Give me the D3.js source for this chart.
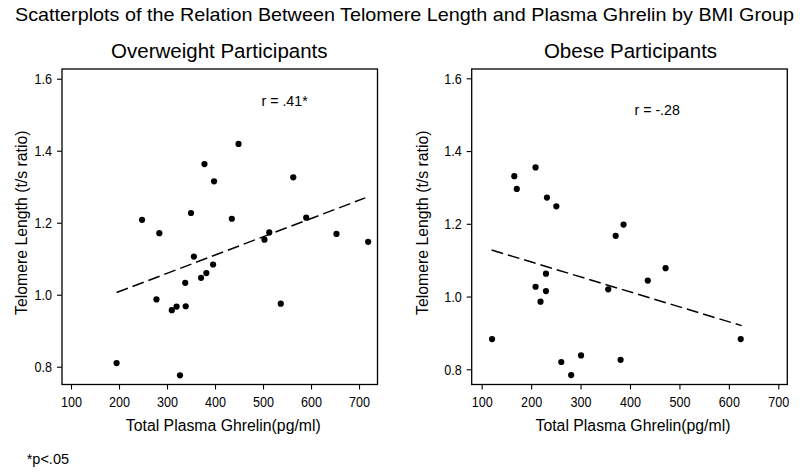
<!DOCTYPE html>
<html>
<head>
<meta charset="utf-8">
<script src="https://cdn.jsdelivr.net/npm/d3@7"></script>
<style>
  html, body { margin: 0; padding: 0; background: #fff; }
  svg { display: block; }
  text { font-family: "Liberation Sans", Arial, Helvetica, sans-serif; fill: #000; }
</style>
</head>
<body>
<svg id="chart" width="800" height="472"></svg>
<script>
// ---------------- data ----------------
const mainTitle = "Scatterplots of the Relation Between Telomere Length and Plasma Ghrelin by BMI Group";
const panelTitles = ["Overweight Participants", "Obese Participants"];
const xLabel = "Total Plasma Ghrelin(pg/ml)";
const yLabel = "Telomere Length (t/s ratio)";
const footnote = "*p<.05";
const rLabels = ["r = .41*", "r = -.28"];

const xTicks = [100, 200, 300, 400, 500, 600, 700];
const yTicks = [0.8, 1.0, 1.2, 1.4, 1.6];

// Overweight participants
const overweightGhrelin = [195, 248, 284, 278, 310, 320, 339, 327, 338, 350, 356, 371, 382, 378, 396, 398, 435, 449, 503, 513, 537, 563, 590, 653, 719];
const overweightTelomere = [0.810, 1.208, 1.171, 0.987, 0.957, 0.967, 0.968, 0.776, 1.033, 1.227, 1.106, 1.047, 1.060, 1.363, 1.084, 1.315, 1.211, 1.419, 1.153, 1.173, 0.975, 1.326, 1.214, 1.169, 1.147];
const overweightFitX = [195, 713];
const overweightFitY = [1.006, 1.269];

// Obese participants
const obeseGhrelin = [121, 166, 171, 209, 232, 251, 230, 209, 230, 219, 261, 281, 301, 356, 371, 387, 381, 436, 472, 624];
const obeseTelomere = [0.883, 1.331, 1.296, 1.355, 1.272, 1.248, 1.063, 1.027, 1.015, 0.986, 0.820, 0.784, 0.838, 1.020, 1.167, 1.198, 0.826, 1.044, 1.078, 0.883];
const obeseFitX = [120, 626];
const obeseFitY = [1.128, 0.920];

// r label anchor positions (data units)
const rLabelX = [545, 455];
const rLabelY = [1.524, 1.499];

// ---------------- layout ----------------
const panels = [
  { left: 62, right: 377.5, top: 69, bottom: 384.5, xDom: [81.25, 738.5], yDom: [0.7506, 1.627],
    title: panelTitles[0], titleX: 219.3, xLabX: 223.3, yLabX: 26.5,
    gx: overweightGhrelin, gy: overweightTelomere, fx: overweightFitX, fy: overweightFitY, r: rLabels[0], rx: rLabelX[0], ry: rLabelY[0] },
  { left: 471.7, right: 787.3, top: 69, bottom: 384.5, xDom: [79.8, 718.2], yDom: [0.7582, 1.6256],
    title: panelTitles[1], titleX: 630.5, xLabX: 633, yLabX: 428,
    gx: obeseGhrelin, gy: obeseTelomere, fx: obeseFitX, fy: obeseFitY, r: rLabels[1], rx: rLabelX[1], ry: rLabelY[1] }
];

const svg = d3.select("#chart");
svg.append("rect").attr("width", 800).attr("height", 472).attr("fill", "#fff");

// main title
svg.append("text")
  .attr("x", 15).attr("y", 20.7)
  .attr("font-size", 18.6)
  .attr("textLength", 779).attr("lengthAdjust", "spacingAndGlyphs")
  .text(mainTitle);

function compress(sel, f) {
  sel.each(function () {
    const len = this.getComputedTextLength();
    d3.select(this).attr("textLength", len * f).attr("lengthAdjust", "spacingAndGlyphs");
  });
}

panels.forEach(p => {
  const x = d3.scaleLinear().domain(p.xDom).range([p.left, p.right]);
  const y = d3.scaleLinear().domain(p.yDom).range([p.bottom, p.top]);
  const g = svg.append("g");

  // axes
  const ya = g.append("g").attr("transform", `translate(${p.left},0)`)
    .call(d3.axisLeft(y).tickValues(yTicks).tickFormat(d3.format(".1f")).tickSize(5).tickPadding(5).tickSizeOuter(0));
  const xa = g.append("g").attr("transform", `translate(0,${p.bottom})`)
    .call(d3.axisBottom(x).tickValues(xTicks).tickFormat(d3.format("d")).tickSize(5).tickPadding(7).tickSizeOuter(0));
  [ya, xa].forEach(a => {
    a.select(".domain").remove();
    a.selectAll(".tick line").attr("stroke", "#000").attr("stroke-width", 1.1);
    a.selectAll(".tick text").attr("font-size", 15).attr("font-family", null).attr("fill", "#000");
    compress(a.selectAll(".tick text"), 0.84);
  });

  // frame
  g.append("rect")
    .attr("x", p.left).attr("y", p.top)
    .attr("width", p.right - p.left).attr("height", p.bottom - p.top)
    .attr("fill", "none").attr("stroke", "#000").attr("stroke-width", 1.3);

  // fit line
  g.append("line")
    .attr("x1", x(p.fx[0])).attr("y1", y(p.fy[0]))
    .attr("x2", x(p.fx[1])).attr("y2", y(p.fy[1]))
    .attr("stroke", "#000").attr("stroke-width", 1.5)
    .attr("stroke-dasharray", "12,5");

  // points
  g.selectAll("circle.pt").data(p.gx.map((v, i) => [v, p.gy[i]])).enter()
    .append("circle").attr("class", "pt")
    .attr("cx", d => x(d[0])).attr("cy", d => y(d[1]))
    .attr("r", 3.1).attr("fill", "#000");

  // r label
  g.append("text")
    .attr("x", x(p.rx)).attr("y", y(p.ry))
    .attr("text-anchor", "middle").attr("font-size", 14.2)
    .text(p.r);

  // panel title
  g.append("text")
    .attr("x", p.titleX).attr("y", 58.3)
    .attr("text-anchor", "middle").attr("font-size", 20.5)
    .text(p.title);

  // x label
  g.append("text")
    .attr("x", p.xLabX).attr("y", 431)
    .attr("text-anchor", "middle").attr("font-size", 15.8)
    .text(xLabel);

  // y label
  g.append("text")
    .attr("transform", `translate(${p.yLabX},${(p.top + p.bottom) / 2 - 4}) rotate(-90)`)
    .attr("text-anchor", "middle").attr("font-size", 15.8)
    .text(yLabel);
});

// footnote
svg.append("text")
  .attr("x", 26.7).attr("y", 464.3)
  .attr("font-size", 14.5)
  .text(footnote);
</script>
</body>
</html>
